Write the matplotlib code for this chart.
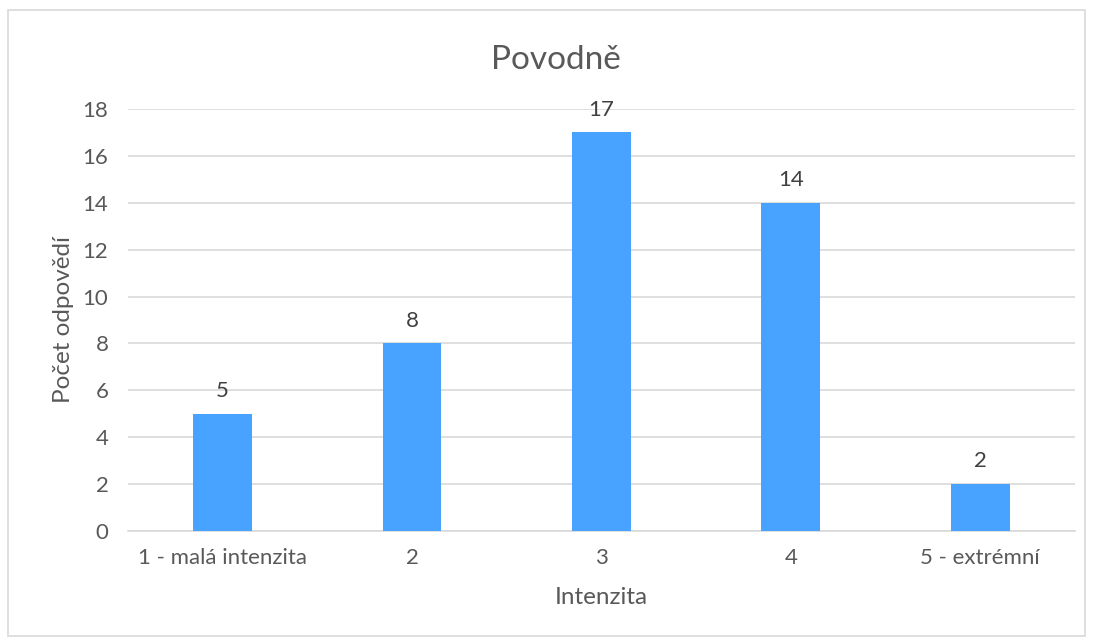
import matplotlib.pyplot as plt
from matplotlib.patches import Rectangle

categories = ['1 - malá intenzita', '2', '3', '4', '5 - extrémní']
values = [5, 8, 17, 14, 2]
yticks = [0, 2, 4, 6, 8, 10, 12, 14, 16, 18]

plt.rcParams['font.family'] = ['Lato', 'DejaVu Sans']
text_color = '#595959'

fig = plt.figure(figsize=(10.93, 6.41), dpi=100)
ax = fig.add_axes([0.117, 0.1716, 0.8665, 0.6584])

x = range(len(categories))
bars = ax.bar(x, values, width=0.31, color='#48a2ff', zorder=3)
for b, v in zip(bars, values):
    ax.text(b.get_x() + b.get_width() / 2, v + 0.55, str(v), ha='center', va='bottom',
            fontsize=16, color='#404040')

ax.set_xlim(-0.5, len(categories) - 0.5)
ax.set_ylim(0, 18)
ax.set_yticks(yticks)
ax.set_xticks(list(x))
ax.set_xticklabels(categories)
ax.grid(axis='y', color='#d9d9d9', linewidth=1.2, zorder=0)
ax.tick_params(axis='both', length=0, labelsize=16, colors=text_color, pad=12)
ax.tick_params(axis='y', pad=14)
for s in ['top', 'right', 'left']:
    ax.spines[s].set_visible(False)
ax.spines['bottom'].set_color('#d9d9d9')
ax.spines['bottom'].set_linewidth(1.2)

fig.text(0.509, 0.906, 'Povodně', fontsize=24, color=text_color, ha='center', va='center')
ax.set_xlabel('Intenzita', fontsize=17.5, color=text_color, labelpad=14)
ax.set_ylabel('Počet odpovědí', fontsize=17.5, color=text_color, labelpad=6)

fig.patches.append(Rectangle((8 / 1093, 5 / 641), 1077 / 1093, 626 / 641,
                             transform=fig.transFigure, fill=False,
                             edgecolor='#d9d9d9', linewidth=1.2))

fig.savefig('out.png', dpi=100)
